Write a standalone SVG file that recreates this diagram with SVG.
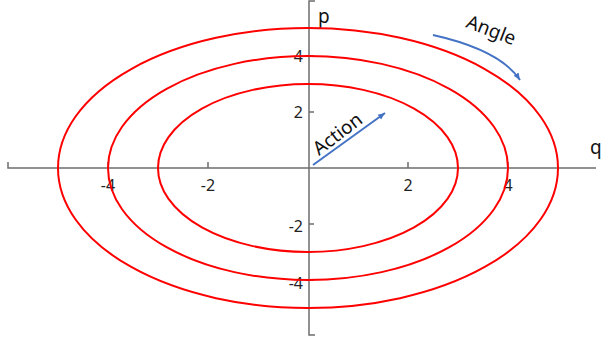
<svg xmlns="http://www.w3.org/2000/svg" width="605" height="343" viewBox="0 0 605 343">
<defs>
<style>
.ax{stroke:#6e6e6e;stroke-width:1.5;fill:none}
.orb{stroke:#ff0000;stroke-width:2;fill:none}
.lbl{font-family:"Noto Sans","Liberation Sans",sans-serif;font-size:16px;fill:#222}
.big{font-family:"Noto Sans","Liberation Sans",sans-serif;font-size:19px;fill:#111}
.arr{stroke:#4472c4;stroke-width:2;fill:none}
</style>
<marker id="ahf" markerWidth="8" markerHeight="8" refX="7" refY="4" orient="auto" markerUnits="userSpaceOnUse">
<path d="M0,1 L7,4 L0,7 Z" fill="#4472c4"/>
</marker>
</defs>
<rect width="605" height="343" fill="#fff"/>
<g id="axes">
<path class="ax" d="M8,162 V168 H596"/>
<path class="ax" d="M315,1 H309 V335 H315"/>
<path class="ax" d="M108,162 V168 M208,162 V168 M408,162 V168 M508,162 V168"/>
<path class="ax" d="M309,56 H314 M309,112 H314 M309,224 H314 M309,280 H314"/>
</g>
<g id="labels">
<text class="lbl" x="108" y="191" text-anchor="middle">-4</text>
<text class="lbl" x="208" y="191" text-anchor="middle">-2</text>
<text class="lbl" x="408" y="191" text-anchor="middle">2</text>
<text class="lbl" x="508" y="191" text-anchor="middle">4</text>
<text class="lbl" x="303" y="62" text-anchor="end">4</text>
<text class="lbl" x="303" y="118" text-anchor="end">2</text>
<text class="lbl" x="303" y="232" text-anchor="end">-2</text>
<text class="lbl" x="303" y="289" text-anchor="end">-4</text>
<text class="big" x="318" y="23">p</text>
<text class="big" x="590" y="154">q</text>
</g>
<g id="orbits">
<ellipse id="orbit3" class="orb" cx="308" cy="168" rx="150" ry="84"/>
<ellipse id="orbit4" class="orb" cx="308" cy="168" rx="200" ry="112"/>
<ellipse id="orbit5" class="orb" cx="308" cy="168" rx="250" ry="140"/>
</g>
<g id="connectors">
<path class="arr" d="M313,165 L385,113" marker-end="url(#ahf)"/>
<path class="arr" d="M433,35 Q500,50 520,80" marker-end="url(#ahf)"/>
</g>
<g id="annotations">
<text class="big" transform="translate(319,156) rotate(-37)">Action</text>
<text class="big" transform="translate(465,27) rotate(21)">Angle</text>
</g>
</svg>
